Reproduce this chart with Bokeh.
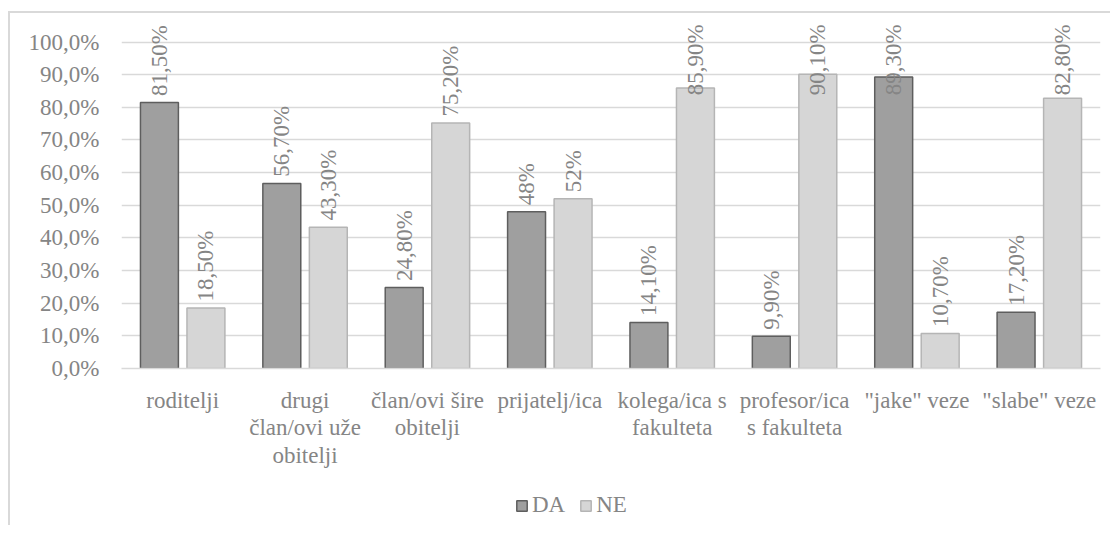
from bokeh.plotting import figure
from bokeh.models import ColumnDataSource, FixedTicker, Legend, LegendItem, Range1d, FactorRange
from bokeh.layouts import column
from bokeh.transform import dodge
from bokeh.core.properties import value
from bokeh.embed import file_html
from bokeh.resources import INLINE

categories = ["roditelji", "drugi\nčlan/ovi uže\nobitelji", "član/ovi šire\nobitelji", "prijatelj/ica",
              "kolega/ica s\nfakulteta", "profesor/ica\ns fakulteta", "\"jake\" veze", "\"slabe\" veze"]
da_values = [81.5, 56.7, 24.8, 48.0, 14.1, 9.9, 89.3, 17.2]
ne_values = [18.5, 43.3, 75.2, 52.0, 85.9, 90.1, 10.7, 82.8]
da_labels = ["81,50%", "56,70%", "24,80%", "48%", "14,10%", "9,90%", "89,30%", "17,20%"]
ne_labels = ["18,50%", "43,30%", "75,20%", "52%", "85,90%", "90,10%", "10,70%", "82,80%"]
series_names = ["DA", "NE"]
y_ticks = [0, 10, 20, 30, 40, 50, 60, 70, 80, 90, 100]
y_tick_labels = ["0,0%", "10,0%", "20,0%", "30,0%", "40,0%", "50,0%", "60,0%", "70,0%", "80,0%", "90,0%", "100,0%"]

FONT = "Liberation Serif"
TXT = "#858585"
FS = "23px"
Y_TOP = 106.6
LABEL_GAP = 2.0
LABEL_CAP = 83.7
DA_FILL, DA_LINE = "#9f9f9f", "#5e5e5e"
NE_FILL, NE_LINE = "#d6d6d6", "#b5b5b5"

src = ColumnDataSource(dict(
    cat=categories,
    da=da_values, ne=ne_values,
    da_lab=da_labels, ne_lab=ne_labels,
    da_ly=[min(v + LABEL_GAP, LABEL_CAP) for v in da_values],
    ne_ly=[min(v + LABEL_GAP, LABEL_CAP) for v in ne_values],
))

p = figure(x_range=FactorRange(*categories, range_padding=0), y_range=Range1d(0, Y_TOP),
           width=1100, height=467, output_backend="svg", toolbar_location=None,
           min_border_left=111, min_border_right=10, min_border_top=7, min_border_bottom=112)
p.outline_line_color = None
p.xgrid.grid_line_color = None
p.ygrid.grid_line_color = "#d9d9d9"
p.ygrid.grid_line_width = 1.5
p.ygrid.ticker = FixedTicker(ticks=y_ticks)
p.yaxis.ticker = FixedTicker(ticks=y_ticks)
p.yaxis.major_label_overrides = {t: l for t, l in zip(y_ticks, y_tick_labels)}
p.yaxis.axis_line_color = None
p.yaxis.major_tick_line_color = None
p.yaxis.minor_tick_line_color = None
p.yaxis.major_label_standoff = 16
p.xaxis.axis_line_color = "#d9d9d9"
p.xaxis.axis_line_width = 1.5
p.xaxis.major_tick_line_color = None
p.xaxis.major_label_standoff = 13
p.xaxis.major_label_text_line_height = 1.1
for ax in (p.xaxis, p.yaxis):
    ax.major_label_text_font = FONT
    ax.major_label_text_font_size = FS
    ax.major_label_text_color = TXT

p.vbar(x=dodge("cat", -0.19, range=p.x_range), top="da", width=0.31, source=src,
       fill_color=DA_FILL, line_color=DA_LINE, line_width=1.5)
p.vbar(x=dodge("cat", 0.19, range=p.x_range), top="ne", width=0.31, source=src,
       fill_color=NE_FILL, line_color=NE_LINE, line_width=1.5)

for off, col in ((-0.19, "da"), (0.19, "ne")):
    p.text(x=dodge("cat", off, range=p.x_range), y=col + "_ly", text=col + "_lab", source=src,
           angle=1.5707963, text_align="left", text_baseline="middle",
           text_font=value(FONT), text_font_size=FS, text_color=TXT)

# legend strip below the chart (its frame is aligned with the main frame by the column layout)
p2 = figure(x_range=Range1d(0, 1), y_range=Range1d(0, 1), width=1100, height=45,
            output_backend="svg", toolbar_location=None,
            min_border_left=0, min_border_right=0, min_border_top=0, min_border_bottom=0)
p2.axis.visible = False
p2.grid.visible = False
p2.outline_line_color = None
key_src = ColumnDataSource(dict(name=series_names, x=[0, 0], top=[0, 0]))
l_da = p2.vbar(x="x", top="top", width=0, source=key_src, fill_color=DA_FILL, line_color=DA_LINE,
               line_width=1.5, visible=False)
l_ne = p2.vbar(x="x", top="top", width=0, source=key_src, fill_color=NE_FILL, line_color=NE_LINE,
               line_width=1.5, visible=False)
legend = Legend(items=[LegendItem(label=series_names[0], renderers=[l_da], index=0),
                       LegendItem(label=series_names[1], renderers=[l_ne], index=1)],
                orientation="horizontal", location=(394, 7),
                label_text_font=FONT, label_text_font_size=FS, label_text_color=TXT,
                glyph_width=13, glyph_height=13, label_standoff=4, spacing=14,
                padding=0, margin=0, border_line_color=None, background_fill_alpha=0,
                inactive_fill_alpha=0)
p2.add_layout(legend, "center")

layout = column(p, p2, spacing=0,
                styles={"border-left": "2px solid #d9d9d9", "border-top": "2px solid #d9d9d9",
                        "margin-left": "8px", "margin-top": "11px"})

open("out.html", "w").write(file_html(layout, INLINE))
